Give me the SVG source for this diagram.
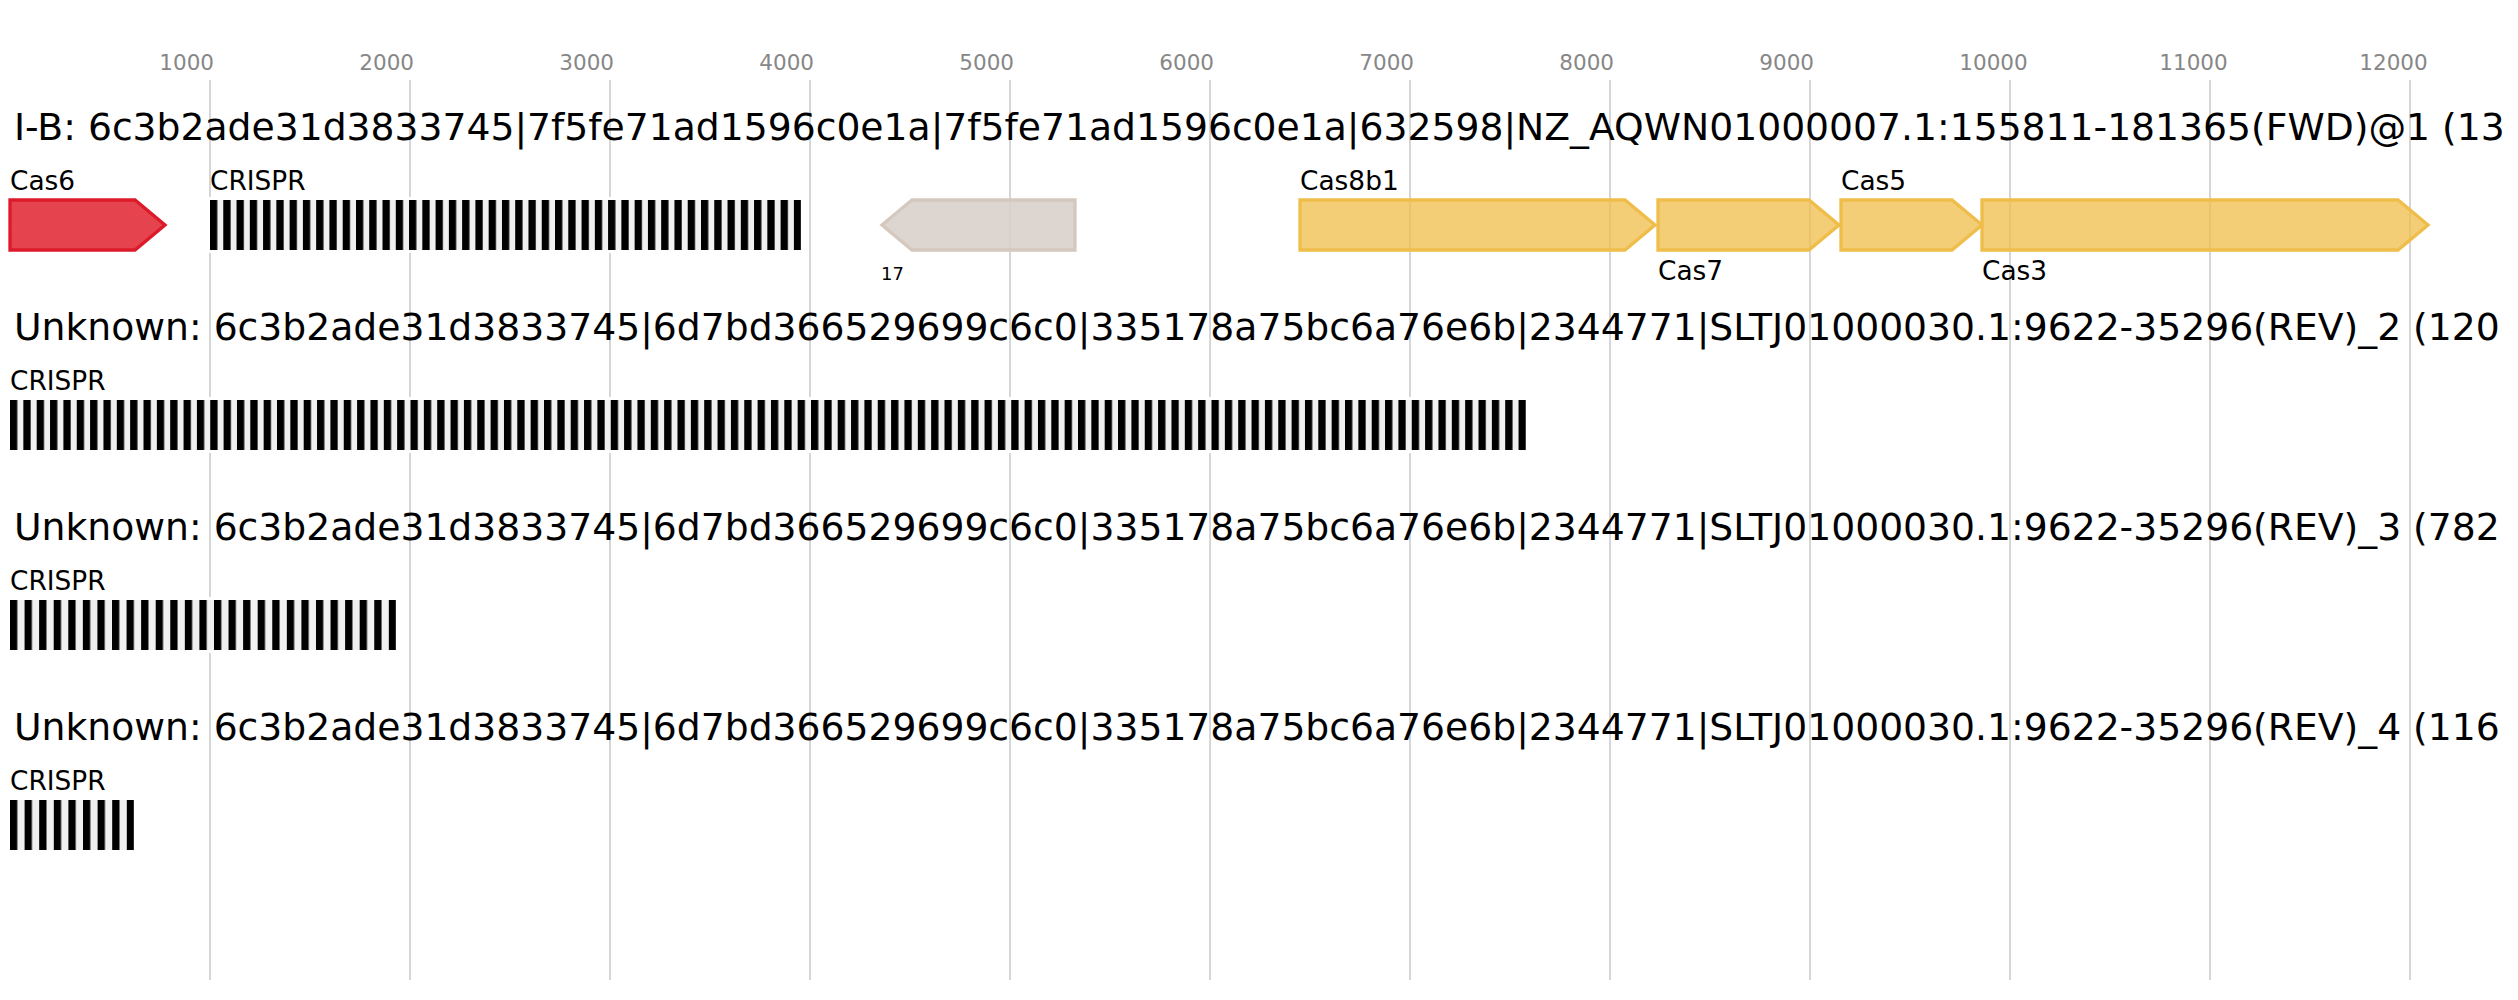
<svg xmlns="http://www.w3.org/2000/svg" width="2518" height="1000" viewBox="0 0 2518 1000">
<style>
text{font-family:"DejaVu Sans","Noto Sans",sans-serif}
.tick{font-size:21.5px;fill:#878787}
.grid{stroke:#c0c0c0;stroke-width:1.3}
.title{font-size:37.7px;fill:#000}
.lbl{font-size:26.4px;fill:#000}
.num{font-size:18px;fill:#000}
.red{fill:#e5444f;stroke:#dd1a2a;stroke-width:3.3}
.gold{fill:#efbd4a;fill-opacity:0.75;stroke:#efbd4a;stroke-width:3.3}
.grey{fill:#d9d0ca;fill-opacity:0.9;stroke:#d4c8bf;stroke-width:3.3}
.halo{fill:#fff}
</style>
<defs>
<pattern id="cr1" x="210" y="0" width="13.27" height="1000" patternUnits="userSpaceOnUse"><rect width="13.27" height="1000" fill="#f0f0f0"/><rect width="7.3" height="1000" fill="#000"/></pattern>
<pattern id="cr2" x="10" y="0" width="13.35" height="1000" patternUnits="userSpaceOnUse"><rect width="13.35" height="1000" fill="#f0f0f0"/><rect width="7.3" height="1000" fill="#000"/></pattern>
<pattern id="cr3" x="10" y="0" width="14.57" height="1000" patternUnits="userSpaceOnUse"><rect width="14.57" height="1000" fill="#f0f0f0"/><rect width="7.3" height="1000" fill="#000"/></pattern>
<pattern id="cr4" x="10" y="0" width="14.6" height="1000" patternUnits="userSpaceOnUse"><rect width="14.6" height="1000" fill="#f0f0f0"/><rect width="7.3" height="1000" fill="#000"/></pattern>
</defs>
<rect width="2518" height="1000" fill="#fff"/>
<g id="axis">
<g class="grid">
<line x1="210" y1="80" x2="210" y2="980"/>
<line x1="410" y1="80" x2="410" y2="980"/>
<line x1="610" y1="80" x2="610" y2="980"/>
<line x1="810" y1="80" x2="810" y2="980"/>
<line x1="1010" y1="80" x2="1010" y2="980"/>
<line x1="1210" y1="80" x2="1210" y2="980"/>
<line x1="1410" y1="80" x2="1410" y2="980"/>
<line x1="1610" y1="80" x2="1610" y2="980"/>
<line x1="1810" y1="80" x2="1810" y2="980"/>
<line x1="2010" y1="80" x2="2010" y2="980"/>
<line x1="2210" y1="80" x2="2210" y2="980"/>
<line x1="2410" y1="80" x2="2410" y2="980"/>
</g>
<g class="tick">
<text x="159.3" y="70">1000</text>
<text x="359.3" y="70">2000</text>
<text x="559.3" y="70">3000</text>
<text x="759.3" y="70">4000</text>
<text x="959.3" y="70">5000</text>
<text x="1159.3" y="70">6000</text>
<text x="1359.3" y="70">7000</text>
<text x="1559.3" y="70">8000</text>
<text x="1759.3" y="70">9000</text>
<text x="1959.3" y="70">10000</text>
<text x="2159.3" y="70">11000</text>
<text x="2359.3" y="70">12000</text>
</g>
</g>
<g id="titles" class="title">
<text x="14" y="140">I-B: 6c3b2ade31d3833745|7f5fe71ad1596c0e1a|7f5fe71ad1596c0e1a|632598|NZ_AQWN01000007.1:155811-181365(FWD)@1 (13</text>
<text x="14" y="340">Unknown: 6c3b2ade31d3833745|6d7bd366529699c6c0|335178a75bc6a76e6b|2344771|SLTJ01000030.1:9622-35296(REV)_2 (120</text>
<text x="14" y="540">Unknown: 6c3b2ade31d3833745|6d7bd366529699c6c0|335178a75bc6a76e6b|2344771|SLTJ01000030.1:9622-35296(REV)_3 (782</text>
<text x="14" y="740">Unknown: 6c3b2ade31d3833745|6d7bd366529699c6c0|335178a75bc6a76e6b|2344771|SLTJ01000030.1:9622-35296(REV)_4 (116</text>
</g>
<g id="cas6">
<path class="red" d="M10,200 L135,200 L165,225 L135,250 L10,250 Z"/>
<text class="lbl" x="10" y="190">Cas6</text>
</g>
<g id="crispr1">
<rect class="halo" x="207" y="197" width="597" height="56"/>
<rect x="210" y="200" width="591" height="50" fill="url(#cr1)"/>
<text class="lbl" x="210" y="190">CRISPR</text>
</g>
<g id="gene17">
<path class="grey" d="M1075,200 L912,200 L882,225 L912,250 L1075,250 Z"/>
<text class="num" x="881" y="280">17</text>
</g>
<g id="cas8b1">
<path class="gold" d="M1300,200 L1625,200 L1655,225 L1625,250 L1300,250 Z"/>
<text class="lbl" x="1300" y="190">Cas8b1</text>
</g>
<g id="cas7">
<path class="gold" d="M1658,200 L1809,200 L1839,225 L1809,250 L1658,250 Z"/>
<text class="lbl" x="1658" y="280">Cas7</text>
</g>
<g id="cas5">
<path class="gold" d="M1841,200 L1952,200 L1982,225 L1952,250 L1841,250 Z"/>
<text class="lbl" x="1841" y="190">Cas5</text>
</g>
<g id="cas3">
<path class="gold" d="M1982,200 L2398,200 L2428,225 L2398,250 L1982,250 Z"/>
<text class="lbl" x="1982" y="280">Cas3</text>
</g>
<g id="crispr2">
<rect class="halo" x="7" y="397" width="1522" height="56"/>
<rect x="10" y="400" width="1516" height="50" fill="url(#cr2)"/>
<text class="lbl" x="10" y="390">CRISPR</text>
</g>
<g id="crispr3">
<rect class="halo" x="7" y="597" width="392" height="56"/>
<rect x="10" y="600" width="386" height="50" fill="url(#cr3)"/>
<text class="lbl" x="10" y="590">CRISPR</text>
</g>
<g id="crispr4">
<rect class="halo" x="7" y="797" width="130" height="56"/>
<rect x="10" y="800" width="124" height="50" fill="url(#cr4)"/>
<text class="lbl" x="10" y="790">CRISPR</text>
</g>
<g id="connectors"/>
</svg>
